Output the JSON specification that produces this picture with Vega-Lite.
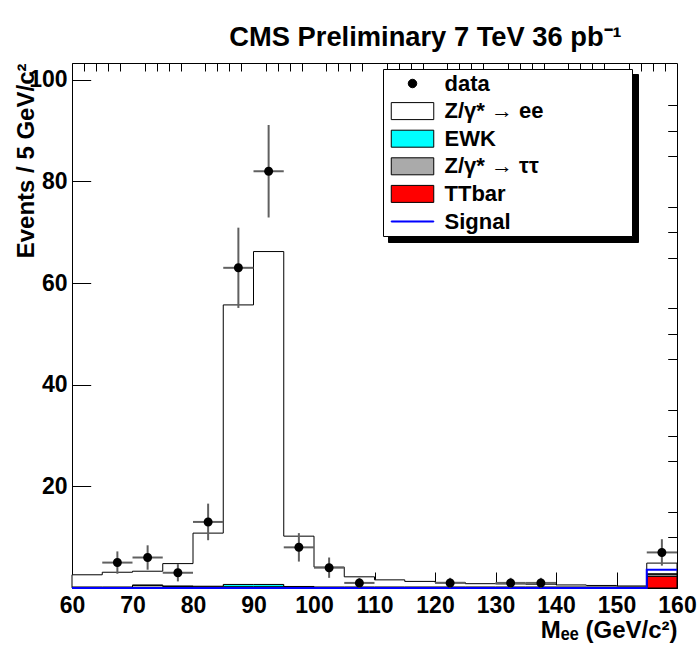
{
  "$schema": "https://vega.github.io/schema/vega-lite/v6.json",
  "width": 605,
  "height": 525,
  "autosize": {"type": "none"},
  "padding": {"left": 72, "top": 63, "right": 22, "bottom": 58},
  "background": "white",
  "config": {"font": "Liberation Sans", "view": {"stroke": "black", "strokeWidth": 1}},
  "title": {"text": "CMS Preliminary 7 TeV 36 pb⁻¹", "font": "Liberation Sans", "fontSize": 27.3, "fontWeight": "bold", "color": "black", "anchor": "middle", "frame": "group", "dx": 51, "offset": -11, "baseline": "alphabetic"},
  "datasets": {
    "hist": [
      {"m":60,"p":"TTbar","o":1,"v":0.05},{"m":60,"p":"Z/γ* → ττ","o":2,"v":0.1},{"m":60,"p":"EWK","o":3,"v":0.05},{"m":60,"p":"Z/γ* → ee","o":4,"v":2.4},
      {"m":65,"p":"TTbar","o":1,"v":0.05},{"m":65,"p":"Z/γ* → ττ","o":2,"v":0.1},{"m":65,"p":"EWK","o":3,"v":0.05},{"m":65,"p":"Z/γ* → ee","o":4,"v":2.9},
      {"m":70,"p":"TTbar","o":1,"v":0.05},{"m":70,"p":"Z/γ* → ττ","o":2,"v":0.5},{"m":70,"p":"EWK","o":3,"v":0.05},{"m":70,"p":"Z/γ* → ee","o":4,"v":2.7},
      {"m":75,"p":"TTbar","o":1,"v":0.05},{"m":75,"p":"Z/γ* → ττ","o":2,"v":0.3},{"m":75,"p":"EWK","o":3,"v":0.05},{"m":75,"p":"Z/γ* → ee","o":4,"v":4.4},
      {"m":80,"p":"TTbar","o":1,"v":0.05},{"m":80,"p":"Z/γ* → ττ","o":2,"v":0.2},{"m":80,"p":"EWK","o":3,"v":0.1},{"m":80,"p":"Z/γ* → ee","o":4,"v":10.45},
      {"m":85,"p":"TTbar","o":1,"v":0.05},{"m":85,"p":"Z/γ* → ττ","o":2,"v":0.2},{"m":85,"p":"EWK","o":3,"v":0.45},{"m":85,"p":"Z/γ* → ee","o":4,"v":55.0},
      {"m":90,"p":"TTbar","o":1,"v":0.05},{"m":90,"p":"Z/γ* → ττ","o":2,"v":0.2},{"m":90,"p":"EWK","o":3,"v":0.45},{"m":90,"p":"Z/γ* → ee","o":4,"v":65.5},
      {"m":95,"p":"TTbar","o":1,"v":0.05},{"m":95,"p":"Z/γ* → ττ","o":2,"v":0.15},{"m":95,"p":"EWK","o":3,"v":0.1},{"m":95,"p":"Z/γ* → ee","o":4,"v":9.9},
      {"m":100,"p":"TTbar","o":1,"v":0.05},{"m":100,"p":"Z/γ* → ττ","o":2,"v":0.1},{"m":100,"p":"EWK","o":3,"v":0.05},{"m":100,"p":"Z/γ* → ee","o":4,"v":3.9},
      {"m":105,"p":"TTbar","o":1,"v":0.05},{"m":105,"p":"Z/γ* → ττ","o":2,"v":0.1},{"m":105,"p":"EWK","o":3,"v":0.05},{"m":105,"p":"Z/γ* → ee","o":4,"v":2.0},
      {"m":110,"p":"TTbar","o":1,"v":0.05},{"m":110,"p":"Z/γ* → ττ","o":2,"v":0.1},{"m":110,"p":"EWK","o":3,"v":0.05},{"m":110,"p":"Z/γ* → ee","o":4,"v":1.4},
      {"m":115,"p":"TTbar","o":1,"v":0.05},{"m":115,"p":"Z/γ* → ττ","o":2,"v":0.1},{"m":115,"p":"EWK","o":3,"v":0.05},{"m":115,"p":"Z/γ* → ee","o":4,"v":1.1},
      {"m":120,"p":"TTbar","o":1,"v":0.05},{"m":120,"p":"Z/γ* → ττ","o":2,"v":0.1},{"m":120,"p":"EWK","o":3,"v":0.05},{"m":120,"p":"Z/γ* → ee","o":4,"v":0.9},
      {"m":125,"p":"TTbar","o":1,"v":0.05},{"m":125,"p":"Z/γ* → ττ","o":2,"v":0.1},{"m":125,"p":"EWK","o":3,"v":0.05},{"m":125,"p":"Z/γ* → ee","o":4,"v":0.65},
      {"m":130,"p":"TTbar","o":1,"v":0.05},{"m":130,"p":"Z/γ* → ττ","o":2,"v":0.1},{"m":130,"p":"EWK","o":3,"v":0.05},{"m":130,"p":"Z/γ* → ee","o":4,"v":0.6},
      {"m":135,"p":"TTbar","o":1,"v":0.05},{"m":135,"p":"Z/γ* → ττ","o":2,"v":0.1},{"m":135,"p":"EWK","o":3,"v":0.05},{"m":135,"p":"Z/γ* → ee","o":4,"v":0.55},
      {"m":140,"p":"TTbar","o":1,"v":0.05},{"m":140,"p":"Z/γ* → ττ","o":2,"v":0.1},{"m":140,"p":"EWK","o":3,"v":0.05},{"m":140,"p":"Z/γ* → ee","o":4,"v":0.4},
      {"m":145,"p":"TTbar","o":1,"v":0.05},{"m":145,"p":"Z/γ* → ττ","o":2,"v":0.1},{"m":145,"p":"EWK","o":3,"v":0.05},{"m":145,"p":"Z/γ* → ee","o":4,"v":0.3},
      {"m":150,"p":"TTbar","o":1,"v":0.05},{"m":150,"p":"Z/γ* → ττ","o":2,"v":0.1},{"m":150,"p":"EWK","o":3,"v":0.05},{"m":150,"p":"Z/γ* → ee","o":4,"v":0.2},
      {"m":155,"p":"TTbar","o":1,"v":2.3},{"m":155,"p":"Z/γ* → ττ","o":2,"v":0.45},{"m":155,"p":"EWK","o":3,"v":0.05},{"m":155,"p":"Z/γ* → ee","o":4,"v":2.1},
      {"m":160,"p":"TTbar","o":1,"v":2.3},{"m":160,"p":"Z/γ* → ττ","o":2,"v":0.45},{"m":160,"p":"EWK","o":3,"v":0.05},{"m":160,"p":"Z/γ* → ee","o":4,"v":2.1}
    ],
    "sig": [
      {"m":60,"s":0},{"m":65,"s":0},{"m":70,"s":0},{"m":75,"s":0},{"m":80,"s":0},{"m":85,"s":0},{"m":90,"s":0},{"m":95,"s":0},{"m":100,"s":0},{"m":105,"s":0},
      {"m":110,"s":0},{"m":115,"s":0},{"m":120,"s":0},{"m":125,"s":0},{"m":130,"s":0},{"m":135,"s":0},{"m":140,"s":0},{"m":145,"s":0},{"m":150,"s":0},{"m":155,"s":3.6},{"m":160,"s":3.6}
    ],
    "pts": [
      {"m":67.5,"n":5,"lo":2.8,"hi":7.2,"a":65,"b":70},
      {"m":72.5,"n":6,"lo":3.6,"hi":8.4,"a":70,"b":75},
      {"m":77.5,"n":3,"lo":1.3,"hi":4.7,"a":75,"b":80},
      {"m":82.5,"n":13,"lo":9.4,"hi":16.6,"a":80,"b":85},
      {"m":87.5,"n":63,"lo":55.1,"hi":70.9,"a":85,"b":90},
      {"m":92.5,"n":82,"lo":72.9,"hi":91.1,"a":90,"b":95},
      {"m":97.5,"n":8,"lo":5.2,"hi":10.8,"a":95,"b":100},
      {"m":102.5,"n":4,"lo":2.0,"hi":6.0,"a":100,"b":105},
      {"m":107.5,"n":1,"lo":0,"hi":2,"a":105,"b":110},
      {"m":122.5,"n":1,"lo":0,"hi":2,"a":120,"b":125},
      {"m":132.5,"n":1,"lo":0,"hi":2,"a":130,"b":135},
      {"m":137.5,"n":1,"lo":0,"hi":2,"a":135,"b":140},
      {"m":157.5,"n":7,"lo":4.4,"hi":9.6,"a":155,"b":160}
    ]
  },
  "resolve": {"axis": {"x": "independent", "y": "independent"}},
  "layer": [
    {
      "data": {"name": "hist"},
      "mark": {"type": "area", "interpolate": "step-after", "strokeWidth": 1, "opacity": 1, "fillOpacity": 1},
      "encoding": {
        "x": {"field": "m", "type": "quantitative", "scale": {"domain": [60, 160], "nice": false, "zero": false},
          "axis": {"values": [60,70,80,90,100,110,120,130,140,150,160], "tickSize": -16, "tickColor": "black", "tickWidth": 1, "domainColor": "black", "domainWidth": 1, "grid": false,
            "labelFontSize": 23, "labelFontWeight": "bold", "labelColor": "black", "labelPadding": 22, "labelFlush": false, "labelOverlap": false, "labelAngle": 0,
            "title": "Mₑₑ (GeV/c²)", "titleFontSize": 24, "titleFontWeight": "bold", "titleColor": "black", "titleAnchor": "end", "titleAlign": "right", "titleBaseline": "alphabetic", "titleX": 605, "titleY": 49}},
        "y": {"field": "v", "type": "quantitative", "stack": "zero", "scale": {"domain": [0, 103.3], "nice": false},
          "axis": {"values": [20,40,60,80,100], "tickSize": -18.7, "tickColor": "black", "tickWidth": 1, "domainColor": "black", "domainWidth": 1, "grid": false,
            "labelFontSize": 23, "labelFontWeight": "bold", "labelColor": "black", "labelPadding": 23.7, "labelFlush": false, "labelOverlap": false,
            "title": "Events / 5 GeV/c²", "titleFontSize": 24, "titleFontWeight": "bold", "titleColor": "black", "titleAnchor": "end", "titleAngle": 270, "titleAlign": "right", "titleBaseline": "middle", "titleX": -46, "titleY": 0}},
        "fill": {"field": "p", "type": "nominal",
          "scale": {"domain": ["data", "Z/γ* → ee", "EWK", "Z/γ* → ττ", "TTbar", "Signal"], "range": ["#000000", "#ffffff", "#00ffff", "#aaaaaa", "#ff0000", "#0000ff"]},
          "legend": {"orient": "none", "legendX": 311, "legendY": 6, "zindex": 2, "title": "\u00a0", "titleOrient": "right", "titlePadding": 85, "titleOpacity": 0,
            "strokeColor": "black", "fillColor": "white", "padding": 3.5, "rowPadding": 5.6, "symbolSize": 289, "symbolOffset": 15, "labelOffset": 21, "symbolStrokeWidth": 1,
            "labelFont": "Liberation Sans", "labelFontSize": 22, "labelFontWeight": "bold", "labelColor": "black", "symbolOpacity": 1}},
        "stroke": {"field": "p", "type": "nominal",
          "scale": {"domain": ["data", "Z/γ* → ee", "EWK", "Z/γ* → ττ", "TTbar", "Signal"], "range": ["#000000", "#000000", "#000000", "#000000", "#000000", "#0000ff"]}},
        "order": {"field": "o", "type": "quantitative"}
      }
    },
    {
      "data": {"name": "sig"},
      "mark": {"type": "line", "interpolate": "step-after", "strokeWidth": 2},
      "encoding": {
        "x": {"field": "m", "type": "quantitative", "axis": null},
        "y": {"field": "s", "type": "quantitative", "axis": null},
        "stroke": {"datum": "Signal"},
        "strokeDash": {"datum": "s1", "type": "nominal",
          "scale": {"domain": ["s1", "s2", "s3", "s4", "s5", "s6"], "range": [[1, 0], [1, 0], [1, 0], [1, 0], [1, 0], [1, 0]]},
          "legend": {"orient": "none", "legendX": 316, "legendY": 11, "zindex": 1, "title": "\u00a0", "titleOrient": "right", "titlePadding": 219, "titleOpacity": 0,
            "strokeColor": "black", "fillColor": "black", "padding": 4, "rowPadding": 3.5, "symbolSize": 289, "symbolType": "square", "symbolOffset": 0, "labelOffset": 0,
            "labelExpr": "''", "labelFontSize": 22, "symbolFillColor": "black", "symbolStrokeColor": "black", "symbolOpacity": 1}}
      }
    },
    {
      "data": {"name": "pts"},
      "mark": {"type": "rule", "color": "#606060", "strokeWidth": 2},
      "encoding": {
        "x": {"field": "m", "type": "quantitative", "axis": null},
        "y": {"field": "lo", "type": "quantitative", "axis": null},
        "y2": {"field": "hi"}
      }
    },
    {
      "data": {"name": "pts"},
      "mark": {"type": "rule", "color": "#606060", "strokeWidth": 2},
      "encoding": {
        "x": {"field": "a", "type": "quantitative", "axis": null},
        "x2": {"field": "b"},
        "y": {"field": "n", "type": "quantitative", "axis": null}
      }
    },
    {
      "data": {"name": "pts"},
      "mark": {"type": "point", "filled": true, "size": 324, "opacity": 1, "strokeWidth": 0},
      "encoding": {
        "x": {"field": "m", "type": "quantitative",
          "axis": {"values": [62,64,66,68,72,74,76,78,82,84,86,88,92,94,96,98,102,104,106,108,112,114,116,118,122,124,126,128,132,134,136,138,142,144,146,148,152,154,156,158],
            "tickSize": -8, "tickColor": "black", "tickWidth": 1, "domain": false, "labels": false, "grid": false, "title": null}},
        "y": {"field": "n", "type": "quantitative",
          "axis": {"values": [5,10,15,25,30,35,45,50,55,65,70,75,85,90,95],
            "tickSize": -9.3, "tickColor": "black", "tickWidth": 1, "domain": false, "labels": false, "grid": false, "title": null}},
        "fill": {"datum": "data"},
        "shape": {"datum": "data",
          "scale": {"domain": ["data", "Z/γ* → ee", "EWK", "Z/γ* → ττ", "TTbar", "Signal"],
            "range": ["M0.5,0A0.5,0.5 0 1,1 -0.5,0A0.5,0.5 0 1,1 0.5,0Z", "M-2.5,-1H2.5V1H-2.5Z", "M-2.5,-1H2.5V1H-2.5Z", "M-2.5,-1H2.5V1H-2.5Z", "M-2.5,-1H2.5V1H-2.5Z", "M-2.5,-0.06H2.5V0.06H-2.5Z"]}}
      }
    },
    {
      "mark": {"type": "rule", "color": "#e00000", "strokeWidth": 2},
      "encoding": {"x": {"datum": 160, "axis": null}}
    }
  ]
}
